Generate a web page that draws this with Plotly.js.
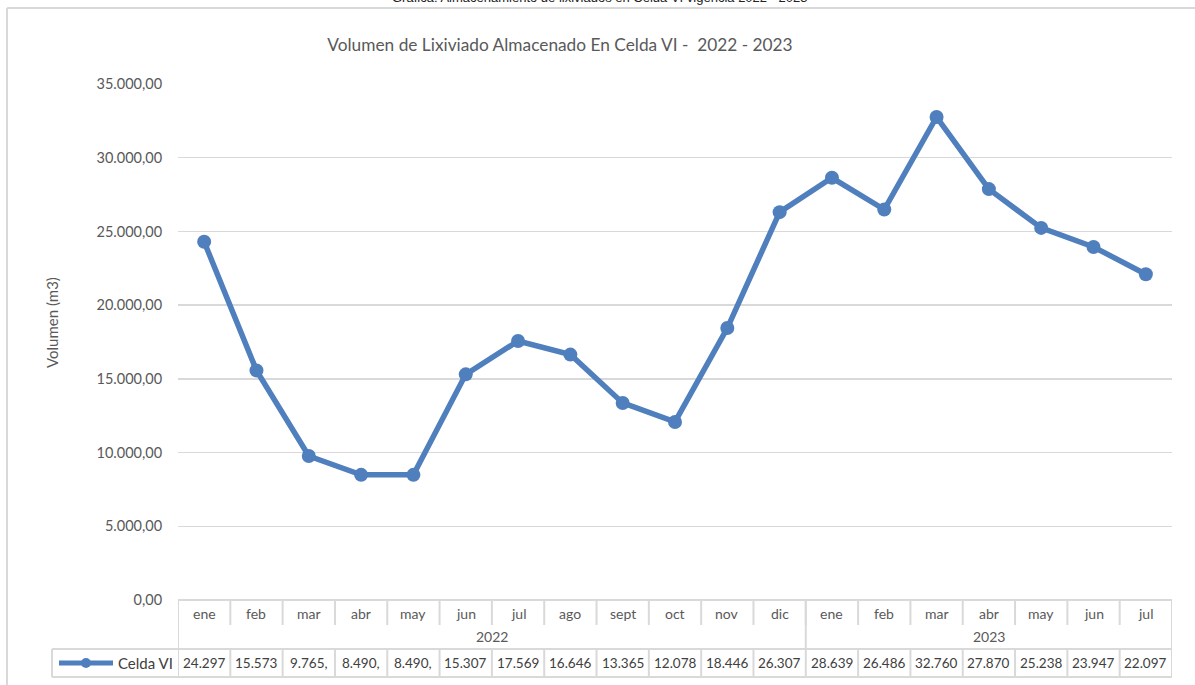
<!DOCTYPE html>
<html>
<head>
<meta charset="utf-8">
<script src="https://cdn.plot.ly/plotly-3.0.1.min.js"></script>
<style>
  html, body { margin: 0; padding: 0; background: #fff; }
  #chart { width: 1195px; height: 685px; }
</style>
</head>
<body>
<div id="chart"></div>
<script>
var months = ["ene", "feb", "mar", "abr", "may", "jun", "jul", "ago", "sept", "oct", "nov", "dic",
              "ene", "feb", "mar", "abr", "may", "jun", "jul"];
var years = ["2022", "2023"];
var monthsPerYear = [12, 7];
var volumes = [24297, 15573, 9765, 8490, 8490, 15307, 17569, 16646, 13365, 12078, 18446, 26307,
               28639, 26486, 32760, 27870, 25238, 23947, 22097];
var seriesName = "Celda VI";

var lineColor = "#4f7fbd";
var gridColor = "#d9d9d9";
var textColor = "#595959";
var font = "Lato, 'Open Sans', sans-serif";

// plot area: top 84px, bottom 600px -> helper to turn pixels into paper coords
var plotTop = 84, plotBottom = 600, plotLeft = 178, plotRight = 1172;
function py(p) { return (plotBottom - p) / (plotBottom - plotTop); }
function px(p) { return (p - plotLeft) / (plotRight - plotLeft); }

var idx = months.map((m, i) => i);

// Excel clips the cell text to the column, mimic that
function cellText(v) {
  var s = v.toFixed(2).replace(".", ",");
  var parts = s.split(",");
  var intPart = parts[0].replace(/\B(?=(\d{3})+(?!\d))/g, ".");
  return (intPart + "," + parts[1]).slice(0, 6);
}

var trace = {
  x: idx,
  y: volumes,
  type: "scatter",
  mode: "lines+markers",
  name: seriesName,
  line: { color: lineColor, width: 5.5 },
  marker: { color: lineColor, size: 14 },
  hoverinfo: "skip",
  cliponaxis: false
};

var shapes = [];
var annotations = [];

// table rows
var rowTop = py(600), rowMid = py(625), rowYear = py(649), rowBottom = py(677);
var tableLine = { color: gridColor, width: 2 };

shapes.push({ type: "line", xref: "x", yref: "paper", x0: -0.5, x1: 18.5, y0: rowTop, y1: rowTop, line: tableLine });
shapes.push({ type: "line", xref: "paper", yref: "paper", x0: px(52), x1: 1, y0: rowYear, y1: rowYear, line: tableLine });
shapes.push({ type: "line", xref: "paper", yref: "paper", x0: px(52), x1: 1, y0: rowBottom, y1: rowBottom, line: tableLine });
shapes.push({ type: "line", xref: "paper", yref: "paper", x0: px(52), x1: px(52), y0: rowYear, y1: rowBottom, line: tableLine });
shapes.push({ type: "line", xref: "x", yref: "paper", x0: -0.5, x1: -0.5, y0: rowTop, y1: rowBottom, line: tableLine });
shapes.push({ type: "line", xref: "x", yref: "paper", x0: 18.5, x1: 18.5, y0: rowTop, y1: rowBottom, line: tableLine });

// month separators and data cells
idx.forEach(function (i) {
  if (i > 0) {
    shapes.push({ type: "line", xref: "x", yref: "paper", x0: i - 0.5, x1: i - 0.5, y0: rowTop, y1: rowMid, line: tableLine });
    shapes.push({ type: "line", xref: "x", yref: "paper", x0: i - 0.5, x1: i - 0.5, y0: rowYear, y1: rowBottom, line: tableLine });
  }
  annotations.push({ xref: "x", yref: "paper", x: i, y: py(613), yanchor: "middle", text: months[i], showarrow: false,
    font: { family: font, size: 14, color: textColor } });
  annotations.push({ xref: "x", yref: "paper", x: i, y: py(663), yanchor: "middle", text: cellText(volumes[i]), showarrow: false,
    font: { family: font, size: 13.5, color: "#404040" } });
});

// year groups
var start = 0;
years.forEach(function (yr, k) {
  var end = start + monthsPerYear[k];
  if (k > 0) {
    shapes.push({ type: "line", xref: "x", yref: "paper", x0: start - 0.5, x1: start - 0.5, y0: rowTop, y1: rowYear, line: tableLine });
  }
  annotations.push({ xref: "x", yref: "paper", x: (start + end - 1) / 2, y: py(636), yanchor: "middle", text: yr, showarrow: false,
    font: { family: font, size: 14, color: textColor } });
  start = end;
});

// legend key inside table
shapes.push({ type: "line", xref: "paper", yref: "paper", x0: px(59), x1: px(113), y0: py(663), y1: py(663),
  line: { color: lineColor, width: 5 } });
shapes.push({ type: "circle", xref: "paper", yref: "paper", x0: px(81), x1: px(91), y0: py(658), y1: py(668),
  fillcolor: lineColor, line: { width: 0 } });
annotations.push({ xref: "paper", yref: "paper", x: px(116), y: py(663), xanchor: "left", yanchor: "middle", text: seriesName,
  showarrow: false, font: { family: font, size: 15, color: "#404040" } });

// y axis title
annotations.push({ xref: "paper", yref: "paper", x: px(52), y: py(323), xanchor: "center", yanchor: "middle",
  text: "Volumen (m3)", textangle: -90,
  showarrow: false, font: { family: font, size: 15, color: textColor } });

// caption cut off at top of the picture
annotations.push({ xref: "paper", yref: "paper", x: px(600), y: py(-2), yanchor: "middle",
  text: "Gráfica: Almacenamiento de lixiviados en Celda VI vigencia 2022 - 2023", showarrow: false,
  font: { family: "'Liberation Sans', Arial, sans-serif", size: 13, color: "#222" } });

// chart frame
shapes.push({ type: "line", xref: "paper", yref: "paper", x0: px(7), x1: px(1195), y0: py(8), y1: py(8),
  line: { color: gridColor, width: 2 } });
shapes.push({ type: "line", xref: "paper", yref: "paper", x0: px(7), x1: px(7), y0: py(8), y1: py(685),
  line: { color: gridColor, width: 2 } });

var layout = {
  width: 1195,
  height: 685,
  margin: { l: plotLeft, r: 1195 - plotRight, t: plotTop, b: 685 - plotBottom },
  paper_bgcolor: "#fff",
  plot_bgcolor: "#fff",
  separators: ",.",
  showlegend: false,
  title: {
    text: "Volumen de Lixiviado Almacenado En Celda VI -  2022 - 2023",
    xref: "container", x: 560 / 1195, xanchor: "center",
    yref: "container", y: 1 - 45 / 685, yanchor: "middle",
    font: { family: font, size: 17.3, color: textColor }
  },
  xaxis: {
    range: [-0.5, 18.5],
    showgrid: false, zeroline: false, showline: false, showticklabels: false, ticks: ""
  },
  yaxis: {
    range: [0, 35000],
    dtick: 5000,
    tickformat: ",.2f",
    showgrid: true, gridcolor: gridColor, gridwidth: 1.5,
    zeroline: false, showline: false,
    ticks: "outside", ticklen: 12, tickcolor: "rgba(0,0,0,0)",
    tickfont: { family: font, size: 14.5, color: textColor }
  },
  shapes: shapes,
  annotations: annotations
};

Plotly.newPlot("chart", [trace], layout, { staticPlot: true });
</script>
</body>
</html>
